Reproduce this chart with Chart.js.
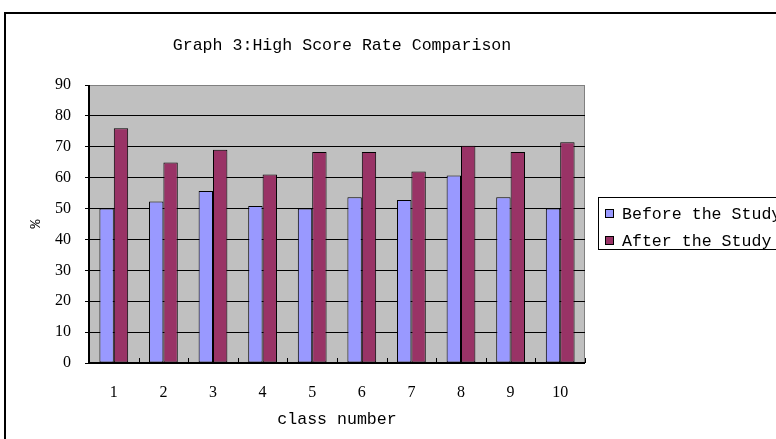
<!DOCTYPE html>
<html>
<head>
<meta charset="utf-8">
<script src="https://cdn.jsdelivr.net/npm/chart.js@4/dist/chart.umd.min.js"></script>
<style>
html,body{margin:0;padding:0;background:#fff;overflow:hidden;}
canvas{display:block;}
</style>
</head>
<body>
<canvas id="c" width="776" height="439"></canvas>
<script>
const chartTitle = "Graph 3:High Score Rate Comparison";
const categories = ["1","2","3","4","5","6","7","8","9","10"];
const seriesNames = ["Before the Study","After the Study"];
const beforeValues = [50, 52.3, 55.7, 50.8, 50, 53.7, 52.8, 60.7, 53.7, 50];
const afterValues = [76, 64.9, 69, 61, 68.3, 68.3, 62, 70.3, 68.3, 71.5];
const yTicks = [0,10,20,30,40,50,60,70,80,90];
const xAxisTitle = "class number";
const yAxisTitle = "%";

const monoFont = "'Liberation Mono', 'DejaVu Sans Mono', monospace";
const serifFont = "'Liberation Serif', 'DejaVu Serif', serif";

const decor = {
  id: 'decor',
  beforeDraw(chart) {
    const {ctx, chartArea: a} = chart;
    ctx.save();
    ctx.fillStyle = '#fff';
    ctx.fillRect(0, 0, chart.width, chart.height);
    ctx.fillStyle = '#C0C0C0';
    ctx.fillRect(a.left, a.top, a.right - a.left, a.bottom - a.top);
    ctx.strokeStyle = '#808080';
    ctx.lineWidth = 1;
    ctx.beginPath();
    ctx.moveTo(a.left, a.top + 0.5);
    ctx.lineTo(a.right - 0.5, a.top + 0.5);
    ctx.lineTo(a.right - 0.5, a.bottom);
    ctx.stroke();
    ctx.restore();
  },
  afterDraw(chart) {
    const {ctx, chartArea: a} = chart;
    const xs = chart.scales.x;
    ctx.save();
    ctx.strokeStyle = '#000';
    ctx.lineWidth = 1;
    const n = categories.length;
    const step = (xs.getPixelForValue(1) - xs.getPixelForValue(0));
    ctx.beginPath();
    for (let i = 1; i <= n; i++) {
      const x = Math.round(xs.getPixelForValue(i - 1) + step / 2) + 0.5;
      ctx.moveTo(x, a.bottom);
      ctx.lineTo(x, a.bottom - 5);
    }
    ctx.stroke();
    ctx.lineWidth = 2;
    ctx.beginPath();
    ctx.moveTo(a.left, a.top);
    ctx.lineTo(a.left, a.bottom);
    ctx.lineTo(a.right, a.bottom);
    ctx.stroke();

    // title
    ctx.fillStyle = '#000';
    ctx.font = "16.6px " + monoFont;
    ctx.textBaseline = 'middle';
    ctx.textAlign = 'center';
    ctx.fillText(chartTitle, 342, 46);

    // legend
    const lx = 598, ly = 197;
    ctx.lineWidth = 1;
    ctx.strokeStyle = '#000';
    ctx.strokeRect(lx + 0.5, ly + 0.5, 400, 52);
    ctx.font = "16.6px " + monoFont;
    ctx.textAlign = 'left';
    chart.data.datasets.forEach((ds, i) => {
      const cy = ly + 17 + i * 27;
      ctx.fillStyle = ds.backgroundColor;
      ctx.fillRect(lx + 7.5, cy - 4.5, 8, 8);
      ctx.strokeRect(lx + 7.5, cy - 4.5, 8, 8);
      ctx.fillStyle = '#000';
      ctx.fillText(ds.label, lx + 24, cy + 1);
    });

    // outer border
    ctx.lineWidth = 2;
    ctx.strokeStyle = '#000';
    ctx.strokeRect(5, 13, 900, 600);
    ctx.restore();
  }
};

new Chart(document.getElementById('c'), {
  type: 'bar',
  data: {
    labels: categories,
    datasets: [
      { label: seriesNames[0], data: beforeValues, backgroundColor: '#9999FF', borderColor: '#000', borderWidth: 1, borderSkipped: false, categoryPercentage: 0.58, barPercentage: 1 },
      { label: seriesNames[1], data: afterValues, backgroundColor: '#993366', borderColor: '#000', borderWidth: 1, borderSkipped: false, categoryPercentage: 0.58, barPercentage: 1 }
    ]
  },
  options: {
    responsive: false,
    animation: false,
    devicePixelRatio: 1,
    layout: { padding: { top: 85, right: 191, left: 0, bottom: 0 } },
    plugins: { legend: { display: false }, title: { display: false }, tooltip: { enabled: false } },
    scales: {
      y: {
        min: 0, max: 90,
        afterBuildTicks(scale) { scale.ticks = yTicks.map(v => ({ value: v })); },
        afterFit(scale) { scale.width = 89; },
        ticks: { color: '#000', font: { family: serifFont, size: 16 }, padding: 14 },
        grid: { color: ctx => (ctx.tick && ctx.tick.value === 90) ? '#808080' : '#000', lineWidth: 1, tickLength: 4, tickColor: '#000' },
        border: { display: false },
        title: { display: true, text: yAxisTitle, color: '#000', font: { family: monoFont, size: 15 }, padding: { top: 27, bottom: 0 } }
      },
      x: {
        afterFit(scale) { scale.height = 76; },
        ticks: { color: '#000', font: { family: serifFont, size: 16 }, padding: 12, maxRotation: 0 },
        grid: { display: false, offset: true },
        border: { display: false },
        title: { display: true, text: xAxisTitle, color: '#000', font: { family: monoFont, size: 16.6 }, padding: { top: 0, bottom: 9 } }
      }
    }
  },
  plugins: [decor]
});
</script>
</body>
</html>
